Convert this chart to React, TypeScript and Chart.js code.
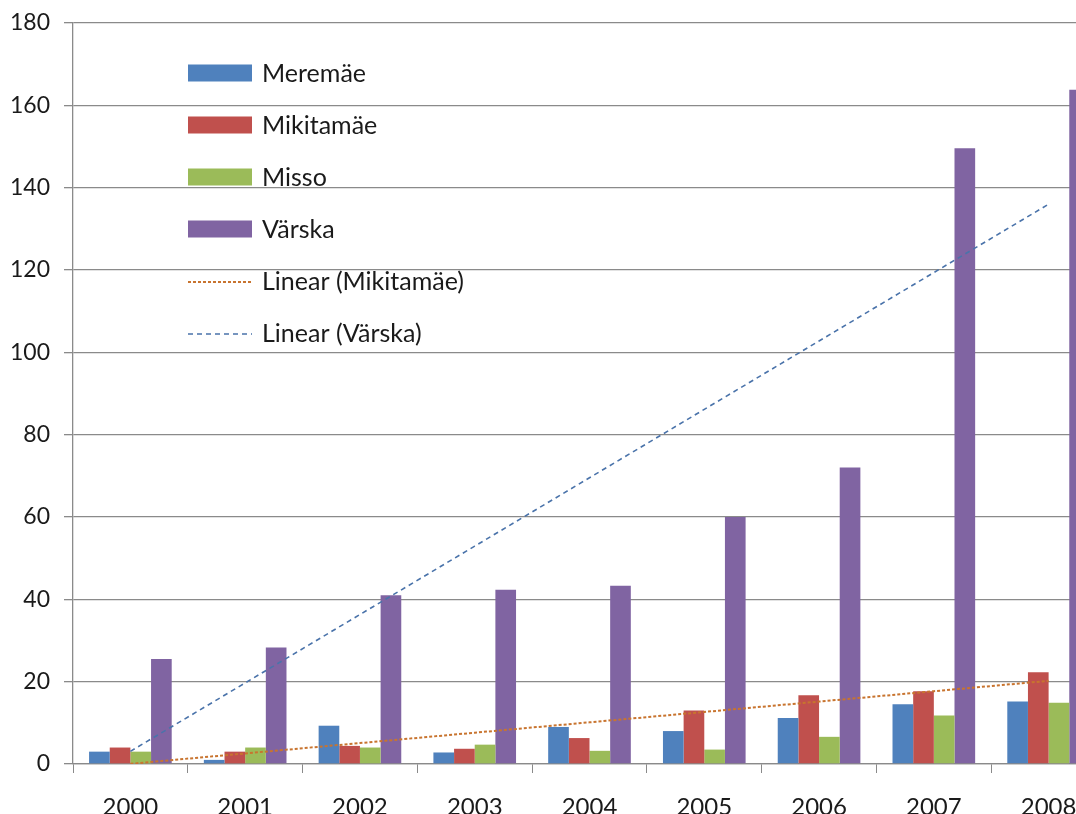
import React, { useEffect, useRef } from "react";
import { Chart, registerables } from "chart.js";

Chart.register(...registerables);

const years = ["2000", "2001", "2002", "2003", "2004", "2005", "2006", "2007", "2008"];
const meremae = [3, 1, 9.3, 2.8, 9, 8, 11.2, 14.5, 15.2];
const mikitamae = [4, 3, 4.4, 3.7, 6.3, 13, 16.7, 17.7, 22.3];
const misso = [3, 4, 4, 4.7, 3.2, 3.5, 6.6, 11.8, 14.9];
const varska = [25.5, 28.3, 41, 42.3, 43.3, 60, 72, 149.6, 163.8];
const yTicks = [0, 20, 40, 60, 80, 100, 120, 140, 160, 180];

const COLORS = {
  meremae: "#4F81BD",
  mikitamae: "#C0504D",
  misso: "#9BBB59",
  varska: "#8064A2",
  trendMik: "#C8742F",
  trendVar: "#4A73AA",
};

// Least-squares linear trend (like Excel "Linear" trendline)
function linearTrend(values: number[]): number[] {
  const n = values.length;
  const mx = (n - 1) / 2;
  const my = values.reduce((a, b) => a + b, 0) / n;
  let sxy = 0;
  let sxx = 0;
  values.forEach((v, i) => {
    sxy += (i - mx) * (v - my);
    sxx += (i - mx) * (i - mx);
  });
  const slope = sxy / sxx;
  return values.map((_, i) => my + slope * (i - mx));
}

const FONT = "Lato, 'Open Sans', sans-serif";

const insideLegend = {
  id: "insideLegend",
  afterDraw(chart: any) {
    const ctx = chart.ctx as CanvasRenderingContext2D;
    const { left, top } = chart.chartArea;
    const x0 = left + 115;
    const boxW = 64;
    const boxH = 17;
    const datasets = chart.data.datasets;
    ctx.save();
    ctx.font = `25px ${FONT}`;
    ctx.textBaseline = "middle";
    ctx.textAlign = "left";
    datasets.forEach((ds: any, i: number) => {
      const cy = top + 50 + 52 * i;
      if (ds.type === "line") {
        ctx.strokeStyle = ds.borderColor;
        ctx.lineWidth = ds.borderWidth;
        ctx.setLineDash(ds.borderDash || []);
        ctx.beginPath();
        ctx.moveTo(x0, cy + 1);
        ctx.lineTo(x0 + boxW, cy + 1);
        ctx.stroke();
        ctx.setLineDash([]);
      } else {
        ctx.fillStyle = ds.backgroundColor;
        ctx.fillRect(x0, cy - boxH / 2, boxW, boxH);
      }
      ctx.fillStyle = "#1a1a1a";
      ctx.fillText(ds.label, x0 + boxW + 10, cy + 1);
    });
    ctx.restore();
  },
};

export default function App() {
  const canvasRef = useRef<HTMLCanvasElement | null>(null);

  useEffect(() => {
    if (!canvasRef.current) return;
    const chart = new Chart(canvasRef.current, {
      type: "bar",
      data: {
        labels: years,
        datasets: [
          { type: "bar", label: "Meremäe", data: meremae, backgroundColor: COLORS.meremae, order: 1 },
          { type: "bar", label: "Mikitamäe", data: mikitamae, backgroundColor: COLORS.mikitamae, order: 1 },
          { type: "bar", label: "Misso", data: misso, backgroundColor: COLORS.misso, order: 1 },
          { type: "bar", label: "Värska", data: varska, backgroundColor: COLORS.varska, order: 1 },
          {
            type: "line",
            label: "Linear (Mikitamäe)",
            data: linearTrend(mikitamae),
            borderColor: COLORS.trendMik,
            borderWidth: 2,
            borderDash: [3, 2],
            pointRadius: 0,
            fill: false,
            tension: 0,
            order: 0,
          },
          {
            type: "line",
            label: "Linear (Värska)",
            data: linearTrend(varska),
            borderColor: COLORS.trendVar,
            borderWidth: 1.6,
            borderDash: [5, 4],
            pointRadius: 0,
            fill: false,
            tension: 0,
            order: 0,
          },
        ] as any,
      },
      options: {
        responsive: false,
        animation: false,
        devicePixelRatio: 1,
        layout: { padding: { top: 23, right: 14, left: 0, bottom: 0 } },
        datasets: {
          bar: { categoryPercentage: 0.72, barPercentage: 1 },
        } as any,
        plugins: {
          legend: { display: false },
          tooltip: { enabled: false },
          title: { display: false },
        },
        scales: {
          x: {
            offset: true,
            grid: {
              offset: true,
              drawOnChartArea: false,
              drawTicks: true,
              tickLength: 9,
              color: "#8a8a8a",
            },
            border: { color: "#8a8a8a", width: 1.3 },
            ticks: {
              padding: 20,
              color: "#1a1a1a",
              font: { family: FONT, size: 24 },
              maxRotation: 0,
              autoSkip: false,
            },
            afterFit(scale: any) {
              scale.height = 76;
              scale.paddingLeft = 0;
              scale.paddingRight = 0;
            },
          },
          y: {
            min: 0,
            max: 180,
            afterBuildTicks(scale: any) {
              scale.ticks = yTicks.map((v) => ({ value: v }));
            },
            grid: {
              color: "#8a8a8a",
              lineWidth: 1.3,
              tickLength: 9,
              drawTicks: true,
            },
            border: { color: "#8a8a8a", width: 1.3 },
            ticks: {
              padding: 14,
              color: "#1a1a1a",
              font: { family: FONT, size: 23 },
            },
            afterFit(scale: any) {
              scale.width = 73;
              scale.paddingTop = 0;
              scale.paddingBottom = 0;
            },
          },
        },
      } as any,
      plugins: [insideLegend],
    });
    return () => chart.destroy();
  }, []);

  return (
    <div
      style={{
        position: "fixed",
        left: 0,
        top: 0,
        width: 1076,
        height: 814,
        overflow: "hidden",
        background: "#ffffff",
      }}
    >
      <canvas ref={canvasRef} width={1120} height={840} style={{ display: "block" }} />
    </div>
  );
}
